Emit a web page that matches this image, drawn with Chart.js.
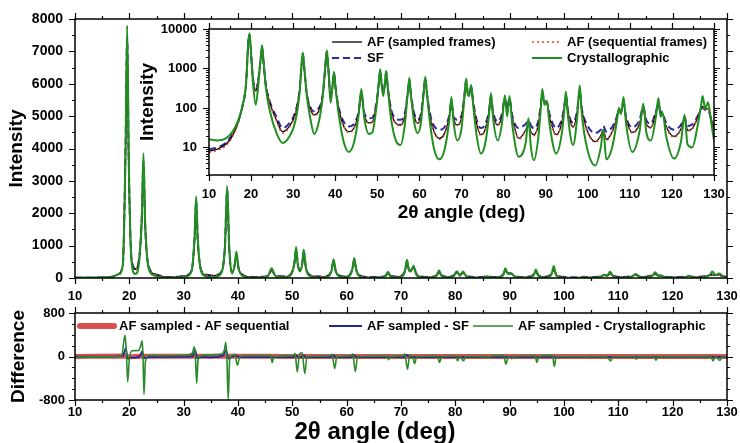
<!DOCTYPE html>
<html>
<head>
<meta charset="utf-8">
<script src="https://cdn.jsdelivr.net/npm/chart.js@4.4.0/dist/chart.umd.min.js"></script>
<style>
body { margin: 0; background: #fff; }
#wrap { position: relative; width: 740px; height: 443px; overflow: hidden; }
canvas { position: absolute; }
#bottom-title {
  position: absolute; left: 225px; width: 300px; top: 419px;
  text-align: center; font: bold 24px "Liberation Sans", Arial, sans-serif; line-height: 24px;
}
</style>
</head>
<body>
<div id="wrap">
  <canvas id="main-chart" width="740" height="305" style="left:0;top:0"></canvas>
  <canvas id="diff-chart" width="740" height="143" style="left:0;top:300px"></canvas>
  <canvas id="inset-chart" width="600" height="210" style="left:130px;top:20px"></canvas>
  <div id="bottom-title">2θ angle (deg)</div>
</div>
<script>
// powder patterns, 2theta grid shared by the four simulated intensities
const twoTheta = [
  10, 12, 14, 15.5, 17, 18, 18.8, 19.3, 19.6, 19.9,
  20.4, 21.1, 21.8, 22.3, 22.6, 22.9, 23.5, 24.5, 26, 27.5,
  29, 30.5, 31.5, 32, 32.3, 32.6, 33.2, 34, 35, 36,
  37, 37.6, 38, 38.4, 38.9, 39.4, 39.7, 40.1, 40.9, 42,
  43.2, 44.5, 45.5, 46.2, 46.9, 48, 48.8, 49.8, 50.4, 50.7,
  51, 51.4, 51.8, 52.1, 52.5, 53.3, 54.5, 55.5, 56.5, 57.2,
  57.6, 58, 58.8, 59.6, 60.4, 61, 61.4, 61.8, 62.6, 63.5,
  64.7, 66, 67.1, 67.6, 68.1, 69, 70, 70.7, 71.1, 71.5,
  71.8, 72.3, 72.8, 73.6, 74.6, 75.6, 76.5, 77, 77.5, 78.6,
  79.6, 80.3, 80.85, 81.4, 82.1, 83.6, 85.3, 85.9, 86.5, 87.2,
  88.3, 88.9, 89.2, 89.7, 90.3, 90.9, 92.5, 93.9, 94.5, 94.8,
  95.3, 96.5, 97.5, 97.8, 98.1, 98.6, 99.8, 101.8, 103.1, 103.7,
  104.4, 105.8, 106.9, 107.4, 107.9, 108.5, 109.1, 110.6, 112.3, 113.2,
  113.9, 115, 116.2, 116.8, 117.3, 117.8, 118.6, 120.5, 122.2, 123,
  123.7, 124.8, 126.2, 126.9, 127.3, 127.9, 128.6, 129.3, 130
];

const afSampled = [
  8, 9, 12, 19, 45, 115, 400, 4000, 7300, 3400,
  600, 270, 600, 1850, 3500, 1650, 380, 130, 50, 25,
  33, 70, 260, 1200, 2300, 1100, 240, 100, 67, 80,
  200, 950, 2600, 850, 170, 400, 720, 300, 85, 35,
  25, 32, 70, 210, 68, 42, 44, 130, 470, 860,
  410, 240, 400, 780, 310, 80, 40, 37, 60, 220,
  480, 200, 60, 41, 65, 240, 520, 220, 55, 25,
  17, 23, 60, 130, 55, 37, 55, 200, 460, 230,
  220, 320, 130, 40, 21, 28, 75, 170, 70, 37,
  60, 160, 90, 150, 55, 17, 28, 40, 25, 21,
  40, 130, 230, 140, 130, 60, 21, 45, 120, 190,
  80, 33, 80, 160, 240, 90, 28, 14, 20, 28,
  16, 25, 55, 90, 75, 130, 55, 24, 40, 95,
  40, 32, 75, 120, 75, 70, 35, 19, 30, 55,
  27, 30, 60, 100, 110, 95, 95, 55, 30
];

const afSequential = [
  7.5, 8.5, 11, 18, 43, 112, 390, 3950, 7250, 3350,
  590, 265, 590, 1830, 3450, 1630, 375, 128, 48, 23,
  31, 68, 255, 1190, 2280, 1090, 235, 98, 64, 78,
  196, 940, 2580, 840, 168, 395, 710, 295, 83, 34,
  24, 31, 68, 205, 66, 41, 43, 128, 465, 850,
  405, 235, 395, 770, 305, 78, 39, 36, 58, 215,
  470, 195, 58, 40, 63, 235, 510, 215, 53, 24,
  16, 22, 58, 128, 53, 36, 53, 195, 450, 225,
  215, 315, 128, 39, 20, 27, 73, 165, 68, 36,
  58, 155, 88, 145, 53, 16, 27, 39, 24, 20,
  39, 128, 225, 138, 128, 58, 20, 44, 118, 185,
  78, 32, 78, 155, 235, 88, 27, 13.5, 19, 27,
  15, 24, 54, 88, 74, 128, 54, 23, 39, 93,
  39, 31, 73, 118, 73, 68, 34, 18, 29, 54,
  26, 29, 58, 98, 108, 93, 93, 54, 29
];

const sfPattern = [
  9, 10, 13, 21, 48, 118, 410, 3950, 7400, 3500,
  620, 290, 620, 1880, 3600, 1700, 400, 140, 60, 31,
  40, 80, 270, 1220, 2400, 1150, 250, 110, 82, 95,
  210, 980, 2700, 870, 180, 410, 760, 310, 95, 45,
  34, 40, 75, 230, 75, 55, 56, 140, 480, 900,
  420, 260, 420, 820, 320, 90, 52, 50, 70, 230,
  520, 215, 70, 50, 75, 250, 560, 235, 65, 35,
  28, 33, 65, 140, 60, 50, 65, 210, 500, 240,
  235, 340, 140, 50, 31, 38, 80, 190, 80, 45,
  70, 175, 100, 170, 62, 31, 40, 48, 36, 30,
  50, 140, 250, 150, 140, 70, 31, 55, 130, 210,
  85, 42, 90, 170, 270, 95, 38, 23, 28, 35,
  25, 33, 60, 95, 80, 140, 60, 32, 50, 105,
  50, 40, 82, 125, 82, 75, 42, 28, 38, 58,
  35, 38, 65, 95, 100, 90, 85, 55, 32
];

const crystallographic = [
  16, 15, 17, 24, 50, 120, 400, 3900, 7800, 3700,
  500, 120, 480, 1900, 3850, 1800, 330, 80, 24, 13,
  18, 45, 230, 1250, 2520, 1200, 220, 60, 22, 40,
  180, 1000, 2850, 900, 135, 420, 820, 300, 60, 14,
  7.7, 14, 60, 300, 55, 22, 24, 110, 500, 960,
  420, 200, 420, 880, 300, 50, 14, 11.5, 35, 220,
  580, 200, 40, 23, 45, 240, 620, 220, 35, 9,
  5, 9, 50, 190, 45, 15, 30, 190, 560, 220,
  200, 380, 110, 20, 7, 12, 60, 240, 55, 15,
  40, 210, 61, 200, 35, 5.8, 14, 55, 10, 4.7,
  20, 120, 300, 120, 150, 40, 7, 25, 110, 260,
  60, 11.5, 60, 170, 370, 70, 10, 3.5, 10, 28,
  5, 10, 45, 100, 70, 190, 40, 7.7, 25, 127,
  25, 15, 60, 178, 60, 74, 20, 5.2, 15, 67,
  12, 10, 40, 110, 200, 95, 140, 45, 15
];

// difference curves, each on its own 2theta points
const seqTheta = [10, 19.3, 19.6, 22.5, 32.3, 38, 50, 70, 100, 130];
const seqDiff = [0, 8, -6, 6, 5, 6, 2, 0, 2, 0];

const sfTheta = [
  10, 17, 18.8, 19.35, 19.7, 20.3, 21.1, 22, 22.35, 22.7,
  23.5, 27.5, 31.7, 32.1, 32.5, 33.2, 35, 37.3, 37.8, 38.2,
  38.8, 39.6, 40.2, 50.2, 50.6, 51, 51.7, 52, 52.5, 57.1,
  57.5, 58, 60.9, 61.3, 61.8, 70.6, 71, 71.5, 130
];
const sfDiff = [
  -2, -3, 10, 150, -40, -20, -20, 10, 100, -30,
  -10, -6, 5, 120, -30, -10, -15, 20, 120, -40,
  -10, 20, -10, -10, 30, -10, -10, 25, -10, -10,
  25, -10, -10, 25, -10, -10, 30, -10, -8
];

const cryTheta = [
  10, 17, 18.6, 19.2, 19.45, 19.7, 20, 20.5, 21.7, 22.1,
  22.35, 22.5, 22.7, 22.95, 23.5, 26, 30, 31.6, 31.95, 32.15,
  32.4, 32.65, 33.2, 35, 37, 37.5, 37.75, 37.95, 38.2, 38.45,
  39, 39.4, 39.9, 40.3, 41, 45.8, 46, 46.3, 46.6, 50.2,
  50.5, 50.9, 51.3, 51.8, 52.3, 52.7, 56.8, 57.3, 57.8, 58.2,
  60.8, 61.1, 61.6, 62, 67.4, 67.7, 68, 70.4, 70.7, 71.2,
  71.6, 72.1, 72.5, 72.9, 76.7, 77.1, 77.5, 80.1, 80.4, 80.8,
  81.5, 81.9, 85.6, 85.9, 86.3, 88.9, 89.3, 89.8, 90.4, 90.8,
  94.7, 95, 95.4, 97.9, 98.2, 98.6, 103.5, 103.8, 104.2, 107.1,
  107.4, 107.8, 108.6, 109, 113, 113.3, 113.7, 116.6, 116.9, 117.3,
  117.9, 118.3, 122.8, 123.1, 123.5, 127, 127.4, 127.9, 128.7, 129.2,
  130
];
const cryDiff = [
  -8, -5, 20, 394, 100, -468, -50, 105, 110, 200,
  290, 50, -695, -100, 20, 15, 20, 60, 180, 20,
  -490, -60, 15, 30, 45, 120, 260, 0, -800, -80,
  30, 40, -160, -10, 15, 15, 20, -110, 0, 15,
  60, -283, 40, 70, -314, 0, 10, 40, -220, 0,
  10, 50, -277, 0, 10, -60, 0, 10, 50, -234,
  20, 10, -130, 0, 10, -110, 0, 10, -80, 10,
  -80, 0, 5, -20, 0, 20, -140, 10, -40, 0,
  15, -110, 0, 20, -185, 0, 0, -10, 0, 0,
  -10, 0, -80, 0, 0, -50, 0, 0, -70, 0,
  -10, 0, 0, -15, 0, 5, -80, 0, -70, 0,
  0
];

Chart.defaults.font.family = '"Liberation Sans", Arial, sans-serif';
Chart.defaults.font.weight = 'bold';
Chart.defaults.font.size = 13;
Chart.defaults.color = '#000';

const GREEN = '#1f8f1f';
const BLACK = '#000000';
const RED = '#e5432b';
const BLUE = '#2b2ba6';

function pts(xs, ys) {
  return xs.map((x, i) => ({ x: x, y: ys[i] }));
}

// tick positions: [value, length]
function linTicks(min, max, minor, major) {
  const out = [];
  for (let v = min; v <= max + 1e-9; v += minor) {
    out.push([v, Math.abs(v / major - Math.round(v / major)) < 1e-6 ? 6 : 3]);
  }
  return out;
}
function logTicks(min, max) {
  const out = [];
  for (let e = 0; e <= 4; e++) {
    for (let d = 1; d <= 9; d++) {
      const v = d * Math.pow(10, e);
      if (v >= min && v <= max) out.push([v, d === 1 ? 6 : 3]);
    }
  }
  return out;
}

// box around the plot area, with outward ticks on all four sides
const frameTicks = {
  id: 'frameTicks',
  beforeDatasetsDraw(chart, args, opts) {
    if (!opts.fill) return;
    const { ctx, chartArea: a } = chart;
    ctx.save();
    ctx.fillStyle = '#fff';
    ctx.fillRect(a.left, a.top, a.width, a.height);
    ctx.restore();
  },
  afterDraw(chart, args, opts) {
    const { ctx, chartArea: a } = chart;
    const sx = chart.scales.x, sy = chart.scales.y;
    ctx.save();
    ctx.strokeStyle = '#000';
    ctx.lineWidth = 1.5;
    ctx.strokeRect(a.left, a.top, a.width, a.height);
    ctx.lineWidth = 1.2;
    ctx.beginPath();
    opts.xTicks.forEach(([v, len]) => {
      const px = Math.round(sx.getPixelForValue(v)) + 0.5;
      ctx.moveTo(px, a.bottom); ctx.lineTo(px, a.bottom + len);
      ctx.moveTo(px, a.top); ctx.lineTo(px, a.top - len);
    });
    opts.yTicks.forEach(([v, len]) => {
      const py = Math.round(sy.getPixelForValue(v)) + 0.5;
      ctx.moveTo(a.left, py); ctx.lineTo(a.left - len, py);
      ctx.moveTo(a.right, py); ctx.lineTo(a.right + len, py);
    });
    ctx.stroke();
    ctx.restore();
  }
};

// legend entries placed at fixed spots, styled from the datasets
const placedLegend = {
  id: 'placedLegend',
  afterDraw(chart, args, opts) {
    if (!opts.items) return;
    const ctx = chart.ctx;
    ctx.save();
    ctx.font = 'bold 13px "Liberation Sans", Arial, sans-serif';
    ctx.textBaseline = 'middle';
    ctx.fillStyle = '#000';
    opts.items.forEach(it => {
      const ds = chart.data.datasets[it.ds];
      ctx.strokeStyle = ds.borderColor;
      ctx.lineWidth = it.width || ds.borderWidth;
      ctx.lineCap = it.cap || 'butt';
      ctx.setLineDash(ds.borderDash || []);
      ctx.beginPath();
      ctx.moveTo(it.x, it.y);
      ctx.lineTo(it.x + it.len, it.y);
      ctx.stroke();
      ctx.setLineDash([]);
      ctx.fillText(ds.label, it.x + it.len + 5, it.y);
    });
    ctx.restore();
  }
};

// fixed axis boxes so the plot areas sit where they should
function fixedY(w) {
  return s => { s.width = w; s.paddingTop = 0; s.paddingBottom = 0; };
}
function fixedX(h) {
  return s => { s.height = h; s.paddingLeft = 0; s.paddingRight = 0; };
}
const plain = v => String(v);

const lineBase = { pointRadius: 0, cubicInterpolationMode: 'monotone', fill: false };

function patternSets(greenWidth) {
  return [
    { ...lineBase, label: 'Crystallographic', data: pts(twoTheta, crystallographic), borderColor: GREEN, borderWidth: greenWidth, order: 0 },
    { ...lineBase, label: 'AF (sampled frames)', data: pts(twoTheta, afSampled), borderColor: BLACK, borderWidth: 1.3, order: 2 },
    { ...lineBase, label: 'AF (sequential frames)', data: pts(twoTheta, afSequential), borderColor: RED, borderWidth: 1.6, borderDash: [2, 3], order: 1 },
    { ...lineBase, label: 'SF', data: pts(twoTheta, sfPattern), borderColor: BLUE, borderWidth: 2, borderDash: [7, 4], order: 3 }
  ];
}

const commonOpts = {
  responsive: false,
  animation: false,
  events: [],
  plugins: { legend: { display: false }, tooltip: { enabled: false } }
};

// main linear pattern
new Chart(document.getElementById('main-chart'), {
  type: 'line',
  data: { datasets: patternSets(2) },
  options: {
    ...commonOpts,
    layout: { padding: { top: 19, right: 13, left: 0, bottom: 0 } },
    plugins: {
      ...commonOpts.plugins,
      frameTicks: { xTicks: linTicks(10, 130, 5, 10), yTicks: linTicks(0, 8000, 500, 1000) }
    },
    scales: {
      x: {
        type: 'linear', min: 10, max: 130,
        grid: { display: false, drawTicks: false }, border: { display: false },
        ticks: { stepSize: 10, autoSkip: false, maxRotation: 0, padding: 11, font: { size: 13 }, callback: plain },
        afterFit: fixedX(27)
      },
      y: {
        min: 0, max: 8000,
        grid: { display: false, drawTicks: false }, border: { display: false },
        ticks: { stepSize: 1000, padding: 12, font: { size: 14 }, callback: plain },
        title: { display: true, text: 'Intensity', font: { size: 19, lineHeight: 1 }, padding: { top: 7 } },
        afterFit: fixedY(75)
      }
    }
  },
  plugins: [frameTicks]
});

// log-scale inset
new Chart(document.getElementById('inset-chart'), {
  type: 'line',
  data: { datasets: patternSets(2) },
  options: {
    ...commonOpts,
    layout: { padding: { top: 9, right: 16, left: 0, bottom: 0 } },
    plugins: {
      ...commonOpts.plugins,
      frameTicks: { fill: true, xTicks: linTicks(10, 130, 5, 10), yTicks: logTicks(2, 10000) },
      placedLegend: {
        items: [
          { ds: 1, x: 202, y: 22, len: 30 },
          { ds: 3, x: 202, y: 38, len: 30 },
          { ds: 2, x: 402, y: 22, len: 30 },
          { ds: 0, x: 402, y: 38, len: 30 }
        ]
      }
    },
    scales: {
      x: {
        type: 'linear', min: 10, max: 130,
        grid: { display: false, drawTicks: false }, border: { display: false },
        ticks: { stepSize: 10, autoSkip: false, maxRotation: 0, padding: 12, callback: plain },
        title: { display: true, text: '2θ angle (deg)', font: { size: 19, lineHeight: 1 }, padding: { bottom: 8 } },
        afterFit: fixedX(55)
      },
      y: {
        type: 'logarithmic', min: 2, max: 10000,
        grid: { display: false, drawTicks: false }, border: { display: false },
        afterBuildTicks: s => { s.ticks = [10, 100, 1000, 10000].map(v => ({ value: v })); },
        ticks: { padding: 12, callback: plain },
        title: { display: true, text: 'Intensity', font: { size: 19, lineHeight: 1 }, padding: { top: 8 } },
        afterFit: fixedY(79)
      }
    }
  },
  plugins: [frameTicks, placedLegend]
});

// difference panel
new Chart(document.getElementById('diff-chart'), {
  type: 'line',
  data: {
    datasets: [
      { ...lineBase, label: 'AF sampled - Crystallographic', data: pts(cryTheta, cryDiff), borderColor: '#2a8a2a', borderWidth: 1.6, order: 0 },
      { ...lineBase, label: 'AF sampled - SF', data: pts(sfTheta, sfDiff), borderColor: '#22289a', borderWidth: 1.8, order: 1 },
      { ...lineBase, label: 'AF sampled - AF sequential', data: pts(seqTheta, seqDiff), borderColor: 'rgba(214,48,48,0.85)', borderWidth: 5, order: 2 }
    ]
  },
  options: {
    ...commonOpts,
    layout: { padding: { top: 13, right: 13, left: 0, bottom: 0 } },
    plugins: {
      ...commonOpts.plugins,
      frameTicks: { xTicks: linTicks(10, 130, 5, 10), yTicks: linTicks(-800, 800, 200, 800) },
      placedLegend: {
        items: [
          { ds: 2, x: 80, y: 26, len: 34, width: 6, cap: 'round' },
          { ds: 1, x: 329, y: 26, len: 33 },
          { ds: 0, x: 473, y: 26, len: 40 }
        ]
      }
    },
    scales: {
      x: {
        type: 'linear', min: 10, max: 130,
        grid: { display: false, drawTicks: false }, border: { display: false },
        ticks: { stepSize: 10, autoSkip: false, maxRotation: 0, padding: 5, font: { size: 13 }, callback: plain },
        afterFit: fixedX(43)
      },
      y: {
        min: -800, max: 800,
        grid: { display: false, drawTicks: false }, border: { display: false },
        ticks: { stepSize: 800, padding: 10, font: { size: 13 }, callback: plain },
        title: { display: true, text: 'Difference', font: { size: 19, lineHeight: 1 }, padding: { top: 9 } },
        afterFit: fixedY(75)
      }
    }
  },
  plugins: [frameTicks, placedLegend]
});
</script>
</body>
</html>
